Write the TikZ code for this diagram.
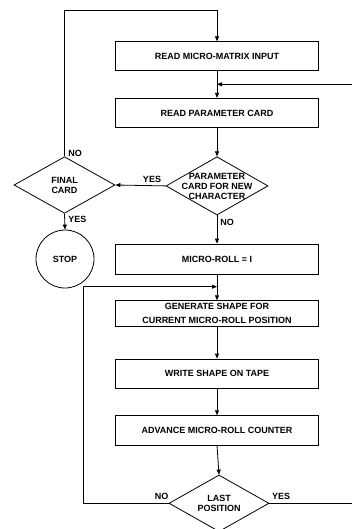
\documentclass[tikz,border=0pt]{standalone}
\usepackage{fontspec}
\setmainfont{Liberation Sans}
\usetikzlibrary{shapes.geometric,arrows.meta}
\newcommand\flowfont{\fontsize{9}{11}\selectfont\bfseries}
\newcommand\difont{\fontsize{9}{10}\selectfont\bfseries}
\begin{document}
\begin{tikzpicture}[x=1pt,y=-1pt,line width=0.8pt,
  box/.style={draw, rectangle, minimum width=202.5pt, minimum height=#1, inner sep=0pt, font=\flowfont, align=center},
  dia/.style={draw, diamond, inner sep=0pt},
  txt/.style={font=\difont, align=center, inner sep=0pt},
  lab/.style={font=\flowfont, inner sep=0pt},
  arr/.style={-{Triangle[length=5pt,width=4pt]}}]
\useasboundingbox (0,0) rectangle (352,529);
% boxes
\node[box=28.5pt] (b1) at (217,56) {READ MICRO-MATRIX INPUT};
\node[box=29.4pt] (b2) at (217,113) {READ PARAMETER CARD};
\node[dia, minimum width=102pt, minimum height=58.3pt] (d1) at (217,185.9) {};
\node[txt] (d1t) at (217,186) {PARAMETER\\CARD FOR NEW\\CHARACTER};
\node[dia, minimum width=101pt, minimum height=56.6pt] (f) at (64.5,185) {};
\node[txt] (ft) at (f) {FINAL\\CARD};
\node[circle, draw, minimum size=58pt, inner sep=0pt, font=\flowfont] (stop) at (65,259) {STOP};
\node[box=30pt] (b3) at (217,259) {MICRO-ROLL = I};
\node[box=25.5pt] (b4) at (217,313.4) {GENERATE SHAPE FOR\\[3.5pt]CURRENT MICRO-ROLL POSITION};
\node[box=29.3pt] (b5) at (217,373.7) {WRITE SHAPE ON TAPE};
\node[box=29.3pt] (b6) at (217,430.3) {ADVANCE MICRO-ROLL COUNTER};
\node[dia, minimum width=100pt, minimum height=56.6pt] (d3) at (219,503.3) {};
\node[txt] (d3t) at (d3) {LAST\\POSITION};
% coordinates
\coordinate (top) at (0,10);
\coordinate (rin) at (352,84.3);
\coordinate (lx) at (83,286.7);
\coordinate (rout) at (352,503.3);
% connectors
\draw[arr] (f.north) -- (f.north |- top) -- (b1.north |- top) -- (b1.north);
\draw[arr] (b1.south) -- (b2.north);
\draw[arr] (rin) -- (rin -| b1.south);
\draw[arr] (b2.south) -- (d1.north);
\draw[arr] (d1.west) -- (f.east);
\draw[arr] (f.south) -- (stop.north);
\draw[arr] (d1.south) -- (b3.north);
\draw[arr] (b3.south) -- (b4.north);
\draw[arr] (d3.west) -- (d3.west -| lx) -- (lx) -- (lx -| b4.north);
\draw[arr] (b4.south) -- (b5.north);
\draw[arr] (b5.south) -- (b6.north);
\draw[arr] (b6.south) -- (d3.north);
\draw (d3.east) -- (rout);
% labels
\node[lab, anchor=west] (lno1) at (68,153) {NO};
\node[lab] (lyes1) at (152,179) {YES};
\node[lab, anchor=west] (lyes2) at (68,219) {YES};
\node[lab, anchor=west] (lno2) at (220,222) {NO};
\node[lab] (lno3) at (161.7,496.7) {NO};
\node[lab] (lyes3) at (281,496.7) {YES};
\end{tikzpicture}
\end{document}
